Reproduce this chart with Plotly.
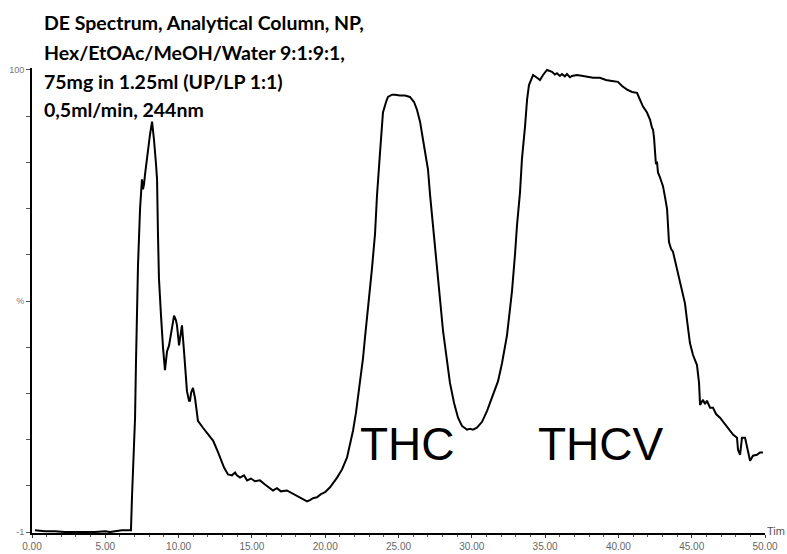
import plotly.graph_objects as go

# Retention time (min) and detector response (%)
time_min = [0.20, 0.89, 1.57, 2.25, 2.93, 3.62, 4.30, 4.98, 5.32, 5.66, 6.14, 6.55, 6.75,
            6.82, 6.89, 7.03, 7.09, 7.16, 7.23, 7.37, 7.44, 7.50, 7.57, 7.64, 7.71, 7.84, 7.98,
            8.05, 8.19, 8.25, 8.32, 8.46, 8.53, 8.59, 8.66, 8.80, 8.87, 8.94, 9.07, 9.21, 9.35,
            9.48, 9.62, 9.69, 9.82, 9.89, 10.03, 10.10, 10.23, 10.37, 10.44, 10.57, 10.71, 10.78,
            10.85, 10.98, 11.12, 11.32, 11.66, 12.01, 12.35, 12.62, 12.82, 13.10, 13.37, 13.64,
            13.85, 13.98, 14.19, 14.46, 14.67, 14.94, 15.21, 15.55, 15.89, 16.17, 16.44, 16.71,
            16.98, 17.39, 17.74, 18.08, 18.42, 18.76, 18.96, 19.17, 19.44, 19.71, 19.99, 20.33,
            20.81, 21.15, 21.49, 21.69, 21.90, 22.10, 22.24, 22.37, 22.58, 22.71, 22.85, 22.99,
            23.19, 23.40, 23.53, 23.74, 23.94, 24.15, 24.28, 24.56, 24.76, 25.10, 25.44, 25.78,
            26.06, 26.26, 26.47, 26.67, 26.88, 27.01, 27.15, 27.35, 27.56, 27.69, 27.83, 28.04,
            28.24, 28.51, 28.79, 29.06, 29.33, 29.67, 29.88, 30.08, 30.35, 30.70, 31.04, 31.38,
            31.79, 32.06, 32.26, 32.40, 32.61, 32.74, 32.95, 33.08, 33.29, 33.42, 33.63, 33.77,
            33.90, 34.18, 34.45, 34.65, 34.86, 35.13, 35.47, 35.67, 35.81, 36.01, 36.15, 36.35,
            36.49, 36.69, 36.83, 37.18, 37.59, 37.93, 38.27, 38.74, 39.15, 39.56, 39.97, 40.25,
            40.59, 40.93, 41.27, 41.47, 41.68, 41.95, 42.16, 42.29, 42.36, 42.43, 42.50, 42.56,
            42.63, 42.70, 42.84, 43.04, 43.18, 43.32, 43.45, 43.59, 43.72, 43.86, 44.00, 44.20,
            44.34, 44.54, 44.68, 44.88, 45.09, 45.36, 45.50, 45.57, 45.77, 45.91, 46.04, 46.25,
            46.45, 46.66, 46.93, 47.20, 47.41, 47.61, 47.82, 48.09, 48.16, 48.30, 48.43, 48.64,
            48.77, 48.84, 48.98, 49.18, 49.45, 49.66, 49.86]
response_pct = [-0.6, -0.8, -0.8, -1.0, -1.0, -1.0, -1.0, -0.8, -1.0, -0.8, -0.6, -0.6, -0.6,
                6.6, 13.8, 24.0, 35.5, 45.7, 57.2, 69.6, 74.6, 76.1, 73.9, 75.0, 77.2, 81.1, 84.8,
                85.9, 88.7, 87.0, 84.8, 79.4, 76.1, 64.6, 54.4, 46.3, 41.4, 39.2, 34.4, 38.5, 39.8,
                42.4, 45.7, 46.3, 45.3, 44.2, 39.8, 41.4, 44.2, 38.5, 34.8, 29.8, 27.7, 27.7,
                29.4, 30.5, 28.3, 23.3, 21.8, 20.5, 19.0, 17.0, 15.3, 13.1, 11.6, 11.4,
                12.0, 11.4, 10.9, 11.4, 10.3, 10.7, 10.1, 10.3, 9.4, 8.8, 8.1, 8.6,
                7.9, 8.1, 7.5, 7.0, 6.4, 5.7, 6.0, 6.4, 6.6, 7.3, 7.7, 8.8,
                10.9, 12.7, 15.3, 17.9, 21.2, 25.1, 28.3, 31.6, 37.0, 41.4, 45.7, 50.0,
                56.6, 64.2, 72.4, 82.0, 90.7, 93.0, 94.1, 94.6, 94.6, 94.4, 94.4, 94.1,
                93.0, 91.3, 88.7, 84.8, 80.5, 78.3, 72.8, 65.9, 59.2, 55.0, 49.0, 42.9,
                38.1, 31.6, 27.2, 24.0, 22.2, 21.4, 21.6, 21.4, 21.8, 23.1, 25.5, 28.3,
                32.0, 35.9, 39.2, 42.0, 47.9, 51.6, 59.8, 65.9, 73.3, 80.5, 87.6, 93.5,
                96.7, 98.9, 98.3, 97.8, 98.9, 100.0, 99.6, 99.0, 99.3, 98.7, 99.1, 98.6,
                99.1, 98.4, 98.7, 98.9, 98.7, 98.5, 98.3, 98.3, 97.8, 97.6, 97.4, 96.5,
                95.7, 95.2, 95.0, 93.5, 92.0, 90.7, 89.1, 87.4, 87.0, 85.2, 80.9, 79.4,
                80.0, 77.6, 76.5, 74.6, 72.2, 69.6, 62.4, 60.9, 60.3, 58.3, 56.6, 53.7,
                51.6, 49.0, 45.3, 40.3, 37.7, 35.5, 31.6, 26.8, 27.9, 27.0, 27.7, 26.2,
                26.2, 24.8, 24.0, 22.9, 22.2, 21.2, 20.3, 19.6, 17.0, 15.9, 19.6, 19.6,
                17.9, 16.4, 14.6, 15.7, 15.9, 16.4, 16.4]

x_tick_values = [0, 5, 10, 15, 20, 25, 30, 35, 40, 45, 50]
x_tick_labels = ["0.00", "5.00", "10.00", "15.00", "20.00", "25.00",
                 "30.00", "35.00", "40.00", "45.00", "50.00"]
y_tick_values = [-1, 9.1, 19.2, 29.3, 39.4, 49.5, 59.6, 69.7, 79.8, 89.9, 100]
y_tick_labels = ["-1", "", "", "", "", "%", "", "", "", "", "100"]
x_axis_title = "Tim"  # the axis title is cut at the right edge of the original image

header_lines = ["DE Spectrum, Analytical Column, NP,",
                "Hex/EtOAc/MeOH/Water 9:1:9:1,",
                "75mg in 1.25ml (UP/LP 1:1)",
                "0,5ml/min, 244nm"]
peak_labels = ["THC", "THCV"]
peak_label_pos = [(25.6, 18.2), (38.8, 18.2)]

fig = go.Figure()
fig.add_trace(go.Scatter(x=time_min, y=response_pct, mode="lines",
                         line=dict(color="black", width=2), showlegend=False,
                         hoverinfo="skip"))

header_y = [1.0968, 1.0323, 0.9699, 0.9097]
annotations = []
for txt, yy in zip(header_lines, header_y):
    annotations.append(dict(text="<b>" + txt + "</b>", x=0.0136, y=yy, xref="paper", yref="paper",
                            xanchor="left", yanchor="middle", showarrow=False,
                            font=dict(family="Lato", size=19.5, color="black")))
for txt, (px, py) in zip(peak_labels, peak_label_pos):
    annotations.append(dict(text=txt, x=px, y=py, xref="x", yref="y",
                            xanchor="center", yanchor="middle", showarrow=False,
                            font=dict(family="Liberation Sans", size=46, color="black")))
annotations.append(dict(text=x_axis_title, x=1.0295, y=0.004, xref="paper", yref="paper",
                        xanchor="right", yanchor="middle", showarrow=False,
                        font=dict(family="Liberation Sans", size=11, color="#555")))

fig.update_layout(
    width=787, height=554,
    margin=dict(l=32, r=22, t=68, b=21),
    paper_bgcolor="white", plot_bgcolor="white",
    annotations=annotations,
    xaxis=dict(range=[0, 50], showgrid=False, zeroline=False, showline=True,
               linecolor="black", linewidth=2, ticks="outside", ticklen=3,
               tickcolor="#333", tickwidth=1, tickvals=x_tick_values, ticktext=x_tick_labels,
               tickfont=dict(family="Liberation Sans", size=10, color="#666"),
               minor=dict(dtick=1, ticks="outside", ticklen=2, tickcolor="#555"),
               automargin=False),
    yaxis=dict(range=[-1.2, 100.43], showgrid=False, zeroline=False, showline=True,
               linecolor="black", linewidth=2, ticks="outside", ticklen=4,
               tickcolor="#555", tickvals=y_tick_values, ticktext=y_tick_labels,
               tickfont=dict(family="Liberation Sans", size=9, color="#777"),
               automargin=False),
)

fig.write_html("out.html", config={"displayModeBar": False},
               post_script="document.body.style.margin='0';document.body.style.overflow='hidden';")
